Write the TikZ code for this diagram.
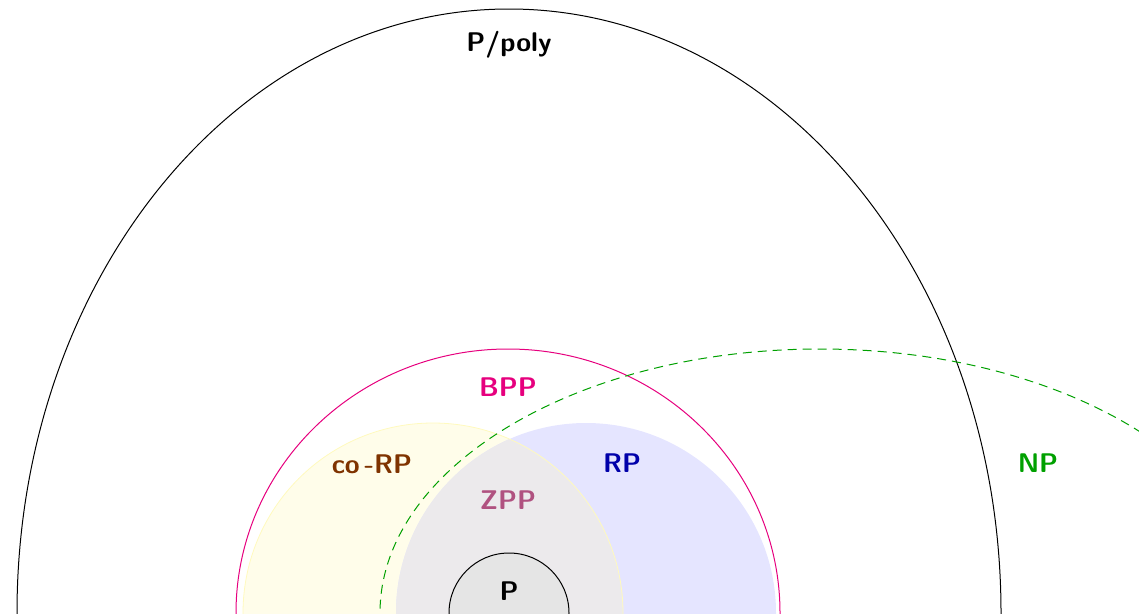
\documentclass[tikz,border=0pt]{standalone}
\usepackage{fontspec}
\begin{document}
\begin{tikzpicture}[x=1pt,y=-1pt,
  lbl/.style={font=\fontsize{27}{31}\selectfont\sffamily\bfseries, inner sep=0pt, anchor=center},
  thinline/.style={line width=1pt}]
\definecolor{bppcol}{RGB}{230,0,126}
\definecolor{corpcol}{RGB}{127,51,0}
\definecolor{rpcol}{RGB}{0,0,170}
\definecolor{zppcol}{RGB}{176,82,128}
\definecolor{npcol}{RGB}{0,160,0}
\definecolor{yelfill}{RGB}{255,253,234}
\definecolor{yelline}{RGB}{255,250,190}
\definecolor{bluefill}{RGB}{229,229,255}
\definecolor{zppfill}{RGB}{236,234,236}
\definecolor{pfill}{RGB}{229,229,229}
\useasboundingbox (0,0) rectangle (1139,613);
\clip (0,0) rectangle (1139,613);
% P/poly
\draw[thinline, black] (509,613) ellipse [x radius=492pt, y radius=604pt];
% BPP
\draw[thinline, bppcol] (508,613) ellipse [x radius=272pt, y radius=264pt];
% co-RP and RP
\fill[yelfill] (433,613) circle (190pt);
\fill[bluefill] (586,613) circle (190pt);
\begin{scope}
  \clip (433,613) circle (190pt);
  \fill[zppfill] (586,613) circle (190pt);
\end{scope}
\draw[line width=0.8pt, yelline] (433,613) circle (190pt);
% NP
\draw[thinline, npcol, dash pattern=on 9pt off 6pt] (820,613) ellipse [x radius=440pt, y radius=264pt];
% P
\draw[thinline, black, fill=pfill] (509,613) circle (60pt);
% labels
\node[lbl] (ppoly) at (509,45) {P/poly};
\node[lbl, text=bppcol] (bpp) at (508,387) {BPP};
\node[lbl, text=corpcol] (corp) at (372,464) {co\,-RP};
\node[lbl, text=rpcol] (rp) at (622,463) {RP};
\node[lbl, text=zppcol] (zpp) at (508,500) {ZPP};
\node[lbl, text=black] (p) at (509,591) {P};
\node[lbl, text=npcol] (np) at (1038,463) {NP};
\end{tikzpicture}
\end{document}
